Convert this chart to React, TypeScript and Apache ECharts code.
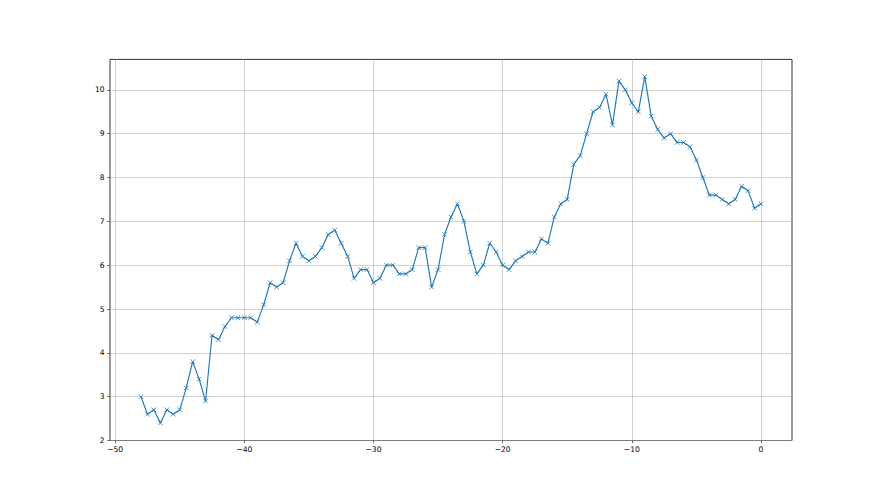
import React, { useEffect, useRef } from 'react';
import * as echarts from 'echarts';

const xValues = [
  -48, -47.5, -47, -46.5, -46, -45.5, -45, -44.5, -44, -43.5, -43, -42.5, -42, -41.5, -41, -40.5, -40,
  -39.5, -39, -38.5, -38, -37.5, -37, -36.5, -36, -35.5, -35, -34.5, -34, -33.5, -33, -32.5, -32, -31.5, -31, -30.5, -30,
  -29.5, -29, -28.5, -28, -27.5, -27, -26.5, -26, -25.5, -25, -24.5, -24, -23.5, -23, -22.5, -22, -21.5, -21, -20.5, -20,
  -19.5, -19, -18.5, -18, -17.5, -17, -16.5, -16, -15.5, -15, -14.5, -14, -13.5, -13, -12.5, -12, -11.5, -11, -10.5, -10,
  -9.5, -9, -8.5, -8, -7.5, -7, -6.5, -6, -5.5, -5, -4.5, -4, -3.5, -3, -2.5, -2, -1.5, -1, -0.5, 0,
];

const yValues = [
  3.0, 2.6, 2.7, 2.4, 2.7, 2.6, 2.7, 3.2, 3.8, 3.4, 2.9, 4.4, 4.3, 4.6, 4.8, 4.8, 4.8,
  4.8, 4.7, 5.1, 5.6, 5.5, 5.6, 6.1, 6.5, 6.2, 6.1, 6.2, 6.4, 6.7, 6.8, 6.5, 6.2, 5.7, 5.9, 5.9, 5.6,
  5.7, 6.0, 6.0, 5.8, 5.8, 5.9, 6.4, 6.4, 5.5, 5.9, 6.7, 7.1, 7.4, 7.0, 6.3, 5.8, 6.0, 6.5, 6.3, 6.0,
  5.9, 6.1, 6.2, 6.3, 6.3, 6.6, 6.5, 7.1, 7.4, 7.5, 8.3, 8.5, 9.0, 9.5, 9.6, 9.9, 9.2, 10.2, 10.0, 9.7,
  9.5, 10.3, 9.4, 9.1, 8.9, 9.0, 8.8, 8.8, 8.7, 8.4, 8.0, 7.6, 7.6, 7.5, 7.4, 7.5, 7.8, 7.7, 7.3, 7.4,
];

const xTicks = [-50, -40, -30, -20, -10, 0];
const yTicks = [2, 3, 4, 5, 6, 7, 8, 9, 10];

const fmt = (v: number) => String(v).replace('-', '\u2212');

export default function App() {
  const ref = useRef<HTMLDivElement>(null);
  useEffect(() => {
    const chart = echarts.init(ref.current!, null, { renderer: 'svg' });
    const data = xValues.map((x, i) => [x, yValues[i]]);
    const labelStyle = {
      fontFamily: 'DejaVu Sans',
      fontSize: 7.6,
      color: '#000',
      formatter: fmt,
      margin: 5.3,
    };
    chart.setOption({
      animation: false,
      backgroundColor: '#ffffff',
      grid: {
        left: 110,
        right: 88,
        top: 59.4,
        bottom: 54.5,
        show: true,
        borderColor: '#000',
        borderWidth: 0.8,
        backgroundColor: 'transparent',
        containLabel: false,
        outerBoundsMode: 'none',
      },
      xAxis: {
        type: 'value',
        position: 'bottom',
        min: -50.4,
        max: 2.4,
        axisLine: { show: false, onZero: false },
        axisTick: { show: true, length: 2.7, customValues: xTicks, lineStyle: { color: '#000', width: 0.6 } },
        axisLabel: { ...labelStyle, customValues: xTicks },
        splitLine: { show: true, lineStyle: { color: '#b0b0b0', width: 0.6 } },
      },
      yAxis: {
        type: 'value',
        position: 'left',
        min: 2,
        max: 10.695,
        axisLine: { show: false, onZero: false },
        axisTick: { show: true, length: 2.7, customValues: yTicks, lineStyle: { color: '#000', width: 0.6 } },
        axisLabel: { ...labelStyle, customValues: yTicks },
        splitLine: { show: true, lineStyle: { color: '#b0b0b0', width: 0.6 } },
      },
      series: [
        {
          type: 'line',
          data,
          symbol: 'path://M0,0L10,10M10,0L0,10',
          symbolSize: 4.6,
          showAllSymbol: true,
          lineStyle: { color: '#1f77b4', width: 1.15 },
          itemStyle: { color: '#1f77b4', borderColor: '#1f77b4', borderWidth: 0.8 },
        },
      ],
    });
    return () => chart.dispose();
  }, []);
  return <div ref={ref} style={{ position: 'fixed', left: 0, top: 0, width: 880, height: 495 }} />;
}
